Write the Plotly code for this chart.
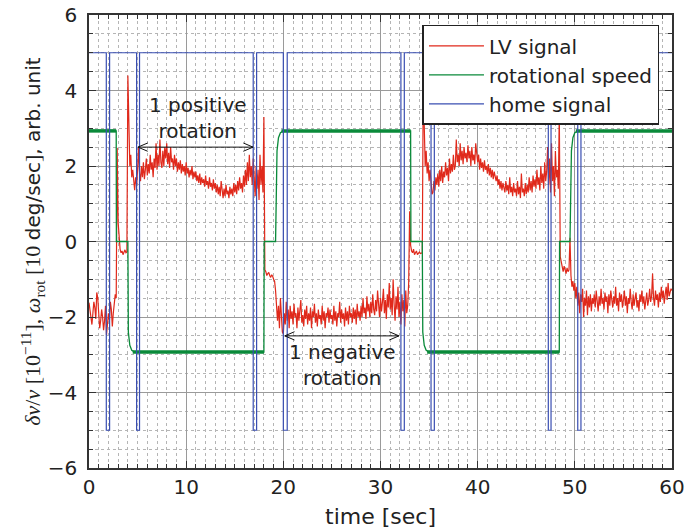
import plotly.graph_objects as go

# ---------------- data ----------------
DT = 0.1  # sample spacing of the LV signal [sec]

# LV signal (red): segments of samples, each with its start time [sec]
lv_0_0 = [-1.62, -1.85, -2.1, -2.2, -1.9, -1.6, -1.75, -2.05, -1.35, -1.5,
          -1.9, -2.3, -2.1, -1.8, -2.0, -2.35, -2.1, -1.7, -2.48, -2.2,
          -1.9, -2.1, -1.6, -1.8, -2.25, -1.9, -1.5, -1.4, -1.5]
lv_2_9 = [2.48, 0.5, 0.1, -0.2, -0.3, -0.25, -0.35, -0.3, -0.22, -0.3, -0.28]
lv_4_0 = [4.4, 3.3, 2.0, 2.3, 1.7, 1.9, 1.5, 1.36, 1.7, 1.5]
lv_5_0 = [1.9, 2.5, 1.8, 1.6, 2.0, 1.7, 2.1, 1.65, 1.9, 2.2,
          1.75, 2.05, 1.8, 2.3, 1.9, 2.1, 1.7, 2.2, 1.95, 2.6]
lv_7_0 = [1.9, 2.3, 2.0, 2.7, 2.1, 1.95, 2.4, 2.0, 2.5, 2.2,
          2.6, 2.05, 2.35, 1.95, 2.5, 2.1, 2.2, 1.9, 2.3, 2.0]
lv_9_0 = [2.2, 1.85, 2.1, 1.9, 2.15, 1.8, 2.05, 1.85, 2.0, 1.75,
          2.1, 1.8, 1.95, 1.7, 1.9, 1.75, 2.0, 1.65, 1.85, 1.7]
lv_11_0 = [1.85, 1.6, 1.75, 1.55, 1.8, 1.5, 1.7, 1.55, 1.65, 1.45,
           1.75, 1.5, 1.6, 1.4, 1.7, 1.45, 1.55, 1.35, 1.65, 1.4]
lv_13_0 = [1.55, 1.3, 1.5, 1.25, 1.45, 1.2, 1.6, 1.3, 1.15, 1.4,
           1.2, 1.5, 1.25, 1.35, 1.15, 1.45, 1.25, 1.4, 1.2, 1.55]
lv_15_0 = [1.3, 1.5, 1.25, 1.6, 1.35, 1.7, 1.4, 1.55, 1.3, 1.75,
           1.45, 1.9, 1.5, 2.1, 1.6, 2.3, 1.7, 2.0, 1.5, 2.2]
lv_17_0 = [1.6, 1.2, 2.0, 1.4, 1.9, 1.1, 2.3, 1.5, 2.0, 1.3]
lv_18_0 = [3.3, -0.75, -0.8, -0.9, -0.85, -0.82, -0.9, -0.95, -0.88, -0.92, -1.0, -1.05]
lv_19_2 = [-1.3, -1.6, -2.1, -1.7, -2.3, -1.5, -2.0, -2.4]
lv_20_0 = [-2.45, -1.9, -2.2, -1.6, -2.1, -1.8, -2.3, -1.7, -2.05, -1.85,
           -2.2, -1.65, -2.0, -1.9, -2.3, -1.75, -2.1, -1.85, -1.55, -2.15,
           -1.95, -2.25, -1.8, -2.05, -1.7, -2.2, -1.9, -2.1, -1.75, -2.3,
           -1.85, -2.0, -1.65, -2.15, -1.9, -2.25, -1.8, -2.05, -1.95, -2.2]
lv_24_0 = [-1.7, -2.1, -1.85, -2.3, -1.9, -2.0, -1.75, -2.15, -1.8, -2.05,
           -1.95, -2.2, -1.7, -2.1, -1.85, -2.25, -1.9, -2.0, -1.6, -2.15,
           -1.8, -2.05, -1.9, -2.25, -1.75, -2.1, -1.85, -2.2, -1.7, -2.0,
           -1.9, -2.15, -1.75, -2.05, -1.8, -2.2, -1.65, -2.0, -1.85, -2.1]
lv_28_0 = [-1.7, -2.0, -1.5, -1.9, -1.75, -2.05, -1.45, -1.85, -1.65, -2.0,
           -1.6, -1.9, -1.4, -1.8, -1.95, -1.55, -1.85, -1.3, -1.75, -2.0,
           -1.5, -1.85, -1.6, -1.25, -1.9, -1.55, -2.05, -1.4, -1.75, -1.1,
           -1.8, -1.5, -1.95, -1.0, -1.65, -2.1, -1.45, -1.8, -1.2, -2.0,
           -1.6, -2.2, -1.4, -1.85, -1.55, -2.25, -1.3, -1.9, -1.7, -1.1]
lv_33_0 = [0.8, -0.1, -0.25, -0.3, -0.2, -0.35, -0.3, -0.25, -0.35, -0.3,
           -0.28, -0.32, -0.3, -0.3]
lv_34_4 = [4.2, 3.4, 2.0, 2.4, 1.8, 2.1, 1.6, 1.9, 1.4, 1.25, 1.3, 1.6, 1.35, 1.7]
lv_35_8 = [1.5, 1.8, 1.45, 1.9, 1.6, 2.0, 1.55, 1.85, 1.7, 2.1, 1.75,
           1.95, 1.6, 2.2, 1.8, 2.05, 1.85, 2.3, 1.9, 2.0, 2.7, 2.1]
lv_38_0 = [2.3, 2.0, 2.6, 2.15, 2.4, 2.05, 2.5, 2.2, 2.35, 2.1,
           2.55, 2.2, 2.4, 2.0, 2.5, 2.15, 2.3, 2.05, 2.6, 2.2]
lv_40_0 = [2.1, 2.3, 1.9, 2.2, 1.95, 2.1, 1.85, 2.15, 1.9, 2.0,
           1.8, 2.05, 1.75, 1.95, 1.7, 1.9, 1.65, 1.85, 1.7, 1.6]
lv_42_0 = [1.75, 1.5, 1.65, 1.4, 1.6, 1.35, 1.55, 1.45, 1.3, 1.6,
           1.35, 1.5, 1.25, 1.7, 1.3, 1.45, 1.2, 1.55, 1.3, 1.4,
           1.2, 1.6, 1.25, 1.45, 1.15, 1.8, 1.3, 1.4, 1.2, 1.55,
           1.25, 1.5, 1.3, 1.7]
lv_45_4 = [1.35, 1.6, 1.3, 1.75, 1.45, 1.65, 1.4, 1.9, 1.5,
           1.7, 1.35, 2.0, 1.55, 1.8, 1.4, 2.1, 1.6, 1.85]
lv_47_2 = [2.5, 1.5, 2.2, 1.3, 2.6, 1.6, 2.0, 1.2, 2.4, 1.7, 1.9, 1.4]
lv_48_4 = [3.44, -0.4, -0.55, -0.7, -0.8, -0.65, -0.75, -0.85, -0.7, -0.8,
           -0.75, 0.1, -0.9, -1.2]
lv_49_8 = [-1.05, -1.3, -1.1, -1.5, -1.2, -1.7, -1.35, -1.9, -1.4, -1.6, -1.25,
           -2.0, -1.5, -1.7, -1.3, -1.95, -1.45, -1.75, -1.4, -1.85, -1.5, -1.65]
lv_52_0 = [-1.4, -1.75, -1.3, -1.6, -1.85, -1.45, -1.7, -1.25, -1.65, -1.5,
           -1.8, -1.35, -1.6, -1.45, -1.9, -1.4, -1.7, -1.3, -1.55, -1.75,
           -1.45, -1.65, -1.2, -1.7, -1.5, -1.85, -1.35, -1.6, -1.4, -1.75,
           -1.55, -1.3, -1.7, -1.45, -1.9, -1.5, -1.65, -1.25, -1.6, -1.8]
lv_56_0 = [-1.4, -1.7, -1.5, -1.35, -1.75, -1.55, -1.85, -1.4, -1.6, -1.3,
           -1.65, -1.45, -1.8, -1.5, -1.35, -1.7, -1.55, -1.25, -1.6, -1.45,
           -0.85, -1.5, -1.7, -1.3, -1.55, -1.4, -1.75, -1.35, -1.6, -1.2,
           -1.5, -1.3, -1.65, -1.4, -1.2, -1.55, -1.1, -1.45, -1.3, -1.25, -1.3]

lv_segments = [
    (0.0, lv_0_0), (2.9, lv_2_9), (4.0, lv_4_0), (5.0, lv_5_0), (7.0, lv_7_0),
    (9.0, lv_9_0), (11.0, lv_11_0), (13.0, lv_13_0), (15.0, lv_15_0),
    (17.0, lv_17_0), (18.0, lv_18_0), (19.2, lv_19_2), (20.0, lv_20_0),
    (24.0, lv_24_0), (28.0, lv_28_0), (33.0, lv_33_0), (34.4, lv_34_4),
    (35.8, lv_35_8), (38.0, lv_38_0), (40.0, lv_40_0), (42.0, lv_42_0),
    (45.4, lv_45_4), (47.2, lv_47_2), (48.4, lv_48_4), (49.8, lv_49_8),
    (52.0, lv_52_0), (56.0, lv_56_0),
]

# rotational speed (green): breakpoints
rot_t = [0, 2.8, 2.82, 4.0, 4.05, 4.2, 4.4, 4.7, 18.0, 18.03, 19.2, 19.35, 19.5,
         19.7, 20.0, 33.1, 33.13, 34.3, 34.35, 34.5, 34.7, 35.0, 48.4, 48.43,
         49.5, 49.65, 49.8, 50.0, 50.3, 60]
rot_v = [2.93, 2.93, 0, 0, -2.4, -2.75, -2.88, -2.93, -2.93, 0, 0, 2.4, 2.75,
         2.88, 2.93, 2.93, 0, 0, -2.4, -2.75, -2.88, -2.93, -2.93, 0, 0, 2.4,
         2.75, 2.88, 2.93, 2.93]
# plateaus of the rotational speed (drawn as a noisy/thick band)
plat_start = [0.0, 4.5, 19.8, 34.8, 50.1]
plat_end = [2.8, 18.0, 33.1, 48.4, 60.0]
plat_level = [2.93, -2.93, 2.93, -2.93, 2.93]

# home signal (blue): pulse edges [sec]
home_high, home_low = 5, -5
pulse_start = [1.78, 4.9, 16.9, 20.0, 32.1, 35.2, 47.27, 50.3]
pulse_end = [2.12, 5.2, 17.25, 20.4, 32.45, 35.54, 47.55, 50.63]

# annotation arrows (x0, x1, y) and labels
pos_arrow = (5.04, 16.88, 2.5)
neg_arrow = (20.15, 31.9, -2.5)

# ---------------- build traces ----------------
lv_t, lv_v = [], []
for start, vals in lv_segments:
    for i, v in enumerate(vals):
        lv_t.append(round(start + i * DT, 3))
        lv_v.append(v)

home_t, home_v = [0], [home_high]
for s, e in zip(pulse_start, pulse_end):
    home_t += [s, s, e, e]
    home_v += [home_high, home_low, home_low, home_high]
home_t.append(60)
home_v.append(home_high)

plat_t, plat_v = [], []
for s, e, lv in zip(plat_start, plat_end, plat_level):
    plat_t += [s, e, None]
    plat_v += [lv, lv, None]

RED = "#e0291b"
GREEN = "#0a8a3a"
BLUE = "#3a4fb2"

fig = go.Figure()
fig.add_trace(go.Scatter(x=lv_t, y=lv_v, mode="lines", name="LV signal",
                         line=dict(color=RED, width=1.2)))
fig.add_trace(go.Scatter(x=rot_t, y=rot_v, mode="lines", name="rotational speed",
                         line=dict(color=GREEN, width=1.3)))
fig.add_trace(go.Scatter(x=plat_t, y=plat_v, mode="lines", showlegend=False,
                         line=dict(color=GREEN, width=3.5), hoverinfo="skip"))
fig.add_trace(go.Scatter(x=home_t, y=home_v, mode="lines", name="home signal",
                         line=dict(color=BLUE, width=1.2)))

# ---------------- arrows + labels ----------------
def arrow_shapes(x0, x1, y, hx=1.0, hy=0.11):
    return [
        dict(type="line", xref="x", yref="y", x0=x0, x1=x1, y0=y, y1=y,
             line=dict(color="#111", width=1)),
        dict(type="path", xref="x", yref="y",
             path=f"M {x0+hx},{y+hy} L {x0},{y} L {x0+hx},{y-hy}",
             line=dict(color="#111", width=1)),
        dict(type="path", xref="x", yref="y",
             path=f"M {x1-hx},{y+hy} L {x1},{y} L {x1-hx},{y-hy}",
             line=dict(color="#111", width=1)),
    ]

shapes = arrow_shapes(*pos_arrow) + arrow_shapes(*neg_arrow)

labels = [
    ("1 positive<br>rotation", 11.17, 3.28),
    ("1 negative<br>rotation", 26.09, -3.27),
]
annotations = [dict(text=t, x=x, y=y, xref="x", yref="y", showarrow=False,
                    xanchor="center", yanchor="middle", align="center",
                    font=dict(size=20, color="#222"))
               for t, x, y in labels]

serif = "font-family:Liberation Serif;font-size:22px"
ytitle = (f"<span style='{serif}'><i>δν</i>/<i>ν</i> [10<sup>−11</sup>], "
          f"<i>ω</i><sub>rot</sub> [10 </span>deg/sec<span style='{serif}'>]</span>, arb. unit")

axis_common = dict(
    ticks="inside", ticklen=7, tickwidth=1, tickcolor="#333",
    showline=True, linecolor="#333", linewidth=1.5, mirror="allticks",
    showgrid=True, gridcolor="#9a9a9a", gridwidth=1, zeroline=False,
    tickfont=dict(size=20, color="#222"), automargin=False,
    ticklabeloverflow="allow",
)

fig.update_layout(
    width=688, height=531,
    margin=dict(l=89, r=15.5, t=15, b=63, autoexpand=False),
    paper_bgcolor="white", plot_bgcolor="white",
    font=dict(family="DejaVu Sans", size=20, color="#222"),
    legend=dict(x=0.572, y=0.978, xanchor="left", yanchor="top",
                bgcolor="white", bordercolor="#222", borderwidth=1.5,
                font=dict(size=20), tracegroupgap=0, itemwidth=55),
    shapes=shapes, annotations=annotations,
    xaxis=dict(range=[0, 60], tickmode="linear", tick0=0, dtick=10,
               minor=dict(dtick=1, ticks="inside", ticklen=4, tickcolor="#333",
                          showgrid=True, gridcolor="#b5b5b5", griddash="dot", gridwidth=1),
               title=dict(text="time [sec]", font=dict(size=22), standoff=11),
               **axis_common),
    yaxis=dict(range=[-6, 6], tickmode="linear", tick0=-6, dtick=2,
               ticklabelstandoff=6,
               minor=dict(dtick=0.5, ticks="inside", ticklen=4, tickcolor="#333",
                          showgrid=True, gridcolor="#b5b5b5", griddash="dot", gridwidth=1),
               title=dict(text=ytitle, font=dict(size=20), standoff=0),
               **axis_common),
)

# remove the browser's default 8 px page margin so the figure fills the window
fig.write_html("out.html", config={"displayModeBar": False},
               post_script="document.body.style.margin='0';")
